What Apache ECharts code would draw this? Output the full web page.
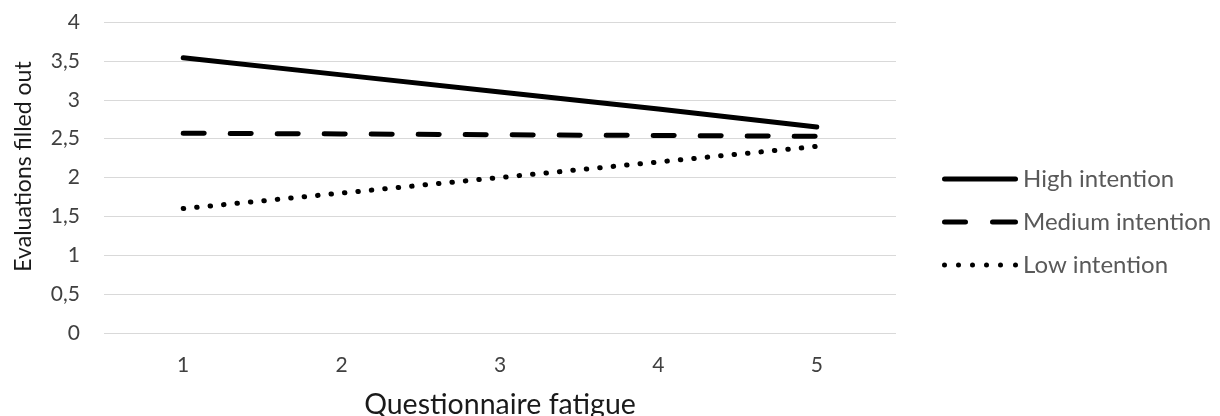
<!DOCTYPE html>
<html>
<head>
<meta charset="utf-8">
<script src="https://cdn.jsdelivr.net/npm/echarts@6/dist/echarts.min.js"></script>
<style>
  html, body { margin: 0; padding: 0; background: #fff; }
  #chart { width: 1220px; height: 416px; }
</style>
</head>
<body>
<div id="chart"></div>
<script>
// data
const categories = ['1', '2', '3', '4', '5']
const highIntention = [3.54, 3.32, 3.1, 2.88, 2.65]
const mediumIntention = [2.57, 2.56, 2.55, 2.54, 2.53]
const lowIntention = [1.6, 1.8, 2.0, 2.2, 2.4]
const seriesNames = ['High intention', 'Medium intention', 'Low intention']

const font = 'Lato'

// legend icons drawn as paths (solid / dashed / dotted)
const solidIcon = 'path://M2.5,0 H73.5 A2.5,2.5 0 0 1 73.5,5 H2.5 A2.5,2.5 0 0 1 2.5,0 Z'
const dashedIcon = 'path://M2.5,0 H23.5 A2.5,2.5 0 0 1 23.5,5 H2.5 A2.5,2.5 0 0 1 2.5,0 Z ' +
  'M50.5,0 H73.5 A2.5,2.5 0 0 1 73.5,5 H50.5 A2.5,2.5 0 0 1 50.5,0 Z'
const dotPath = (cx) => 'M' + (cx - 2.5) + ',2.5 A2.5,2.5 0 1 0 ' + (cx + 2.5) + ',2.5 A2.5,2.5 0 1 0 ' + (cx - 2.5) + ',2.5 Z'
const dottedIcon = 'path://' + [2.5, 16.5, 30.5, 44.5, 58.5, 73.5].map(dotPath).join(' ')

const chart = echarts.init(document.getElementById('chart'))

const makeSeries = (name, data, lineStyle) => ({
  name: name,
  type: 'line',
  data: data,
  symbol: 'none',
  showSymbol: false,
  silent: true,
  lineStyle: Object.assign({ color: '#000', width: 5, cap: 'round' }, lineStyle)
})

chart.setOption({
  animation: false,
  color: ['#000', '#000', '#000'],
  textStyle: { fontFamily: font },
  legend: {
    data: [
      { name: seriesNames[0], icon: solidIcon },
      { name: seriesNames[1], icon: dashedIcon },
      { name: seriesNames[2], icon: dottedIcon }
    ],
    orient: 'vertical',
    left: 937,
    top: 162,
    itemWidth: 76,
    itemHeight: 5,
    itemGap: 19,
    selectedMode: false,
    textStyle: { fontSize: 24, lineHeight: 24, color: '#595959', fontFamily: font }
  },
  grid: {
    left: 104,
    right: 324,
    top: 22,
    bottom: 83,
    containLabel: false,
    outerBoundsMode: 'none'
  },
  xAxis: {
    type: 'category',
    data: categories,
    boundaryGap: true,
    name: 'Questionnaire fatigue',
    nameLocation: 'middle',
    nameGap: 57,
    nameTextStyle: { fontSize: 28.5, color: '#1a1a1a', fontFamily: font },
    axisLine: { show: false },
    axisTick: { show: false },
    axisLabel: { fontSize: 21, color: '#404040', margin: 22 }
  },
  yAxis: {
    type: 'value',
    min: 0,
    max: 4,
    interval: 0.5,
    name: 'Evaluations filled out',
    nameLocation: 'middle',
    nameGap: 69,
    nameTextStyle: { fontSize: 23, color: '#1a1a1a', fontFamily: font, padding: [0, 0, 0, 22] },
    axisLine: { show: false },
    axisTick: { show: false },
    axisLabel: {
      fontSize: 21,
      color: '#404040',
      margin: 24,
      formatter: (v) => String(v).replace('.', ',')
    },
    splitLine: { lineStyle: { color: '#d9d9d9', width: 1 } }
  },
  series: [
    makeSeries(seriesNames[0], highIntention, { type: 'solid' }),
    makeSeries(seriesNames[1], mediumIntention, { type: [21, 26] }),
    makeSeries(seriesNames[2], lowIntention, { type: [0.5, 13] })
  ]
})
</script>
</body>
</html>
